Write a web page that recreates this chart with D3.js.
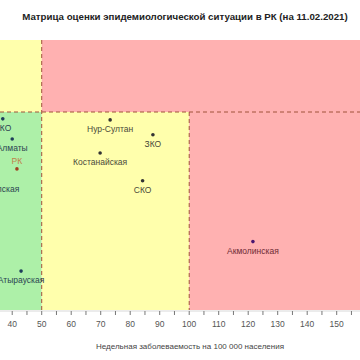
<!DOCTYPE html>
<html><head><meta charset="utf-8">
<script src="https://cdn.jsdelivr.net/npm/d3@7/dist/d3.min.js"></script>
<style>body{margin:0;background:#fff}svg{display:block;font-family:"Liberation Sans",Arial,sans-serif}</style>
</head><body><svg id="c" width="360" height="360"></svg>
<script>
const regions = ["ВКО","Алматы","РК","Жамбылская","Нур-Султан","ЗКО","Костанайская","СКО","Акмолинская","Атырауская"];
const incidence = [36.8, 40.0, 41.6, 33.6, 73.2, 87.7, 69.8, 84.2, 121.6, 43.0];
const ratio = [0.981, 0.925, 0.842, 0.811, 0.978, 0.937, 0.886, 0.809, 0.640, 0.558];
const xTicks = [40,50,60,70,80,90,100,110,120,130,140,150];
const xDomain = [35.86, 157.9];
const yDomain = [0.45, 1.2];
const xThresholds = [50, 100];
const yThreshold = 1.0;

const svg = d3.select("#c");
const L = 0, R = 360, T = 40, B = 310;
const x = d3.scaleLinear().domain(xDomain).range([L, R]);
const y = d3.scaleLinear().domain(yDomain).range([B, T]);

const green = "#adf0a8", yellow = "#ffffac", red = "#ffb1b1";
const rects = [
  {x0: xDomain[0], x1: xThresholds[0], y0: yDomain[0], y1: yThreshold, c: green},
  {x0: xDomain[0], x1: xThresholds[0], y0: yThreshold, y1: yDomain[1], c: yellow},
  {x0: xThresholds[0], x1: xThresholds[1], y0: yDomain[0], y1: yThreshold, c: yellow},
  {x0: xThresholds[0], x1: xDomain[1], y0: yThreshold, y1: yDomain[1], c: red},
  {x0: xThresholds[1], x1: xDomain[1], y0: yDomain[0], y1: yThreshold, c: red}
];
svg.selectAll("rect.reg").data(rects).join("rect").attr("class","reg")
  .attr("x", d => x(d.x0)).attr("width", d => x(d.x1) - x(d.x0))
  .attr("y", d => y(d.y1)).attr("height", d => y(d.y0) - y(d.y1))
  .attr("fill", d => d.c);

const dashC = "#a0523a";
svg.append("line").attr("x1", x(xDomain[0])).attr("x2", x(xDomain[1]))
  .attr("y1", y(yThreshold)).attr("y2", y(yThreshold))
  .attr("stroke", dashC).attr("stroke-width", 1).attr("stroke-dasharray", "4,3");
svg.append("line").attr("x1", x(xThresholds[0])).attr("x2", x(xThresholds[0]))
  .attr("y1", y(yDomain[1])).attr("y2", y(yDomain[0]))
  .attr("stroke", dashC).attr("stroke-width", 1).attr("stroke-dasharray", "4,3");
svg.append("line").attr("x1", x(xThresholds[1])).attr("x2", x(xThresholds[1]))
  .attr("y1", y(yThreshold)).attr("y2", y(yDomain[0]))
  .attr("stroke", dashC).attr("stroke-width", 1).attr("stroke-dasharray", "4,3");

// axis
const minor = d3.range(40, 160, 5);
const ax = svg.append("g").attr("transform", `translate(0,${B + 1})`);
ax.append("line").attr("x1", L).attr("x2", R).attr("stroke", "#d8d8d8");
ax.selectAll("line.t").data(minor).join("line").attr("class","t")
  .attr("x1", d => x(d)).attr("x2", d => x(d)).attr("y1", 0).attr("y2", 4)
  .attr("stroke", "#777");
ax.selectAll("text").data(xTicks).join("text")
  .attr("x", d => x(d)).attr("y", 16).attr("text-anchor", "middle")
  .attr("font-size", 8.5).attr("fill", "#555").text(d => d);
svg.append("text").attr("x", 190).attr("y", 349).attr("text-anchor", "middle")
  .attr("font-size", 8).attr("fill", "#444")
  .text("Недельная заболеваемость на 100 000 населения");

svg.append("text").attr("x", 185).attr("y", 20).attr("text-anchor", "middle")
  .attr("font-size", 9.7).attr("font-weight", "bold").attr("fill", "#222")
  .text("Матрица оценки эпидемиологической ситуации в РК (на 11.02.2021)");

// points
const pts = regions.map((r, i) => ({name: r, v: incidence[i], r: ratio[i]}));
function zone(d) {
  if (d.name === "РК") return "rk";
  if (d.v > xThresholds[1] || (d.v > xThresholds[0] && d.r > yThreshold)) return "red";
  if (d.v < xThresholds[0] && d.r < yThreshold) return "green";
  return "yellow";
}
const dotC = {green: "#1e3d5a", yellow: "#333", red: "#4a1570", rk: "#a04020"};
const txtC = {green: "#2c4452", yellow: "#4a4a3a", red: "#6e2b35", rk: "#c08048"};
const g = svg.append("g");
g.selectAll("circle").data(pts).join("circle")
  .attr("cx", d => x(d.v)).attr("cy", d => y(d.r)).attr("r", 1.8)
  .attr("fill", d => dotC[zone(d)]);
g.selectAll("text").data(pts).join("text")
  .attr("x", d => x(d.v)).attr("y", d => zone(d) === "rk" ? y(d.r) - 5 : y(d.r) + 12)
  .attr("text-anchor", "middle").attr("font-size", 8.5)
  .attr("fill", d => txtC[zone(d)]).text(d => d.name);
</script></body></html>
